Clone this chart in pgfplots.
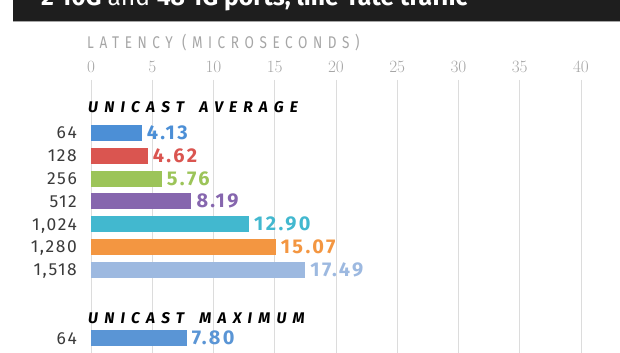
\documentclass[border=0pt]{standalone}
\usepackage{pgfplots}
\pgfplotsset{compat=1.18}
\usepackage{fontspec}
\setmainfont{Fira Sans}
\newfontfamily\tickfont[FakeStretch=0.72]{Fira Sans}
\newfontfamily\capfont[FakeStretch=0.8,LetterSpace=33]{Fira Sans}
\newfontfamily\rowfont[LetterSpace=9]{Fira Sans}
\newfontfamily\valfont[LetterSpace=12]{Fira Sans}
\newfontfamily\headfont[LetterSpace=40,WordSpace=1.6]{Fira Sans}
\definecolor{c1}{HTML}{4C8FD6}
\definecolor{c2}{HTML}{DA5550}
\definecolor{c3}{HTML}{9CC459}
\definecolor{c4}{HTML}{8666AE}
\definecolor{c5}{HTML}{42B8CF}
\definecolor{c6}{HTML}{F39641}
\definecolor{c7}{HTML}{9DB9E0}
\definecolor{c8}{HTML}{5A95D5}
\definecolor{gridc}{HTML}{DCDCDC}
\definecolor{tickc}{HTML}{A6A6A6}
\definecolor{rowc}{HTML}{3A3A3A}
\definecolor{band}{HTML}{1E1E1E}
\pgfplotsset{
  valbar/.style={fill=#1, draw=none, bar shift=0pt, bar width=0.7,
    nodes near coords, point meta=explicit symbolic,
    nodes near coords style={anchor=west, inner sep=0pt, xshift=5bp,
      text=#1, font=\valfont\bfseries\fontsize{20}{22}\selectfont}}
}
\begin{document}
\begin{tikzpicture}
\fill[band] (13bp,332.3bp) rectangle (620bp,353bp);
\draw[black!35, line width=0.8bp] (13bp,331.9bp) -- (620bp,331.9bp);
\node[anchor=base west, inner sep=0pt, text=white, font=\fontsize{24.8}{27}\selectfont] at (41bp,347.5bp)
  {\bfseries 2 10G \mdseries and \bfseries 48 1G ports, line-rate traffic};
\node[anchor=base west, inner sep=0pt, text=tickc, font=\capfont\fontsize{17}{19}\selectfont] at (87bp,304bp)
  {LATENCY (MICROSECONDS)};
\begin{axis}[
  at={(91bp,0bp)}, anchor=south west, scale only axis,
  width=529.2bp, height=273bp,
  xmin=0, xmax=43.2, ymin=-2.32, ymax=9.65, y dir=reverse,
  xbar,
  axis line style={draw=none},
  major tick length=0pt,
  xtick={0,5,...,40},
  xticklabel pos=upper,
  xmajorgrids, grid style={gridc, line width=0.9bp},
  xticklabel style={anchor=base, inner sep=0pt, text=tickc, font=\tickfont\fontsize{18.5}{20}\selectfont, yshift=7bp},
  ytick={0,1,2,3,4,5,6,9},
  yticklabels={64,128,256,512,{1,024},{1,280},{1,518},64},
  yticklabel style={anchor=east, inner sep=0pt, text depth=0pt, xshift=-14bp, text=rowc, font=\rowfont\fontsize{17.5}{19}\selectfont},
  clip=false,
]
\addplot[valbar=c1] coordinates {(4.13,0) [4.13]};
\addplot[valbar=c2] coordinates {(4.62,1) [4.62]};
\addplot[valbar=c3] coordinates {(5.76,2) [5.76]};
\addplot[valbar=c4] coordinates {(8.19,3) [8.19]};
\addplot[valbar=c5] coordinates {(12.90,4) [12.90]};
\addplot[valbar=c6] coordinates {(15.07,5) [15.07]};
\addplot[valbar=c7] coordinates {(17.49,6) [17.49]};
\addplot[valbar=c8] coordinates {(7.80,9) [7.80]};
\node[anchor=base west, inner sep=0pt, xshift=-3bp, font=\headfont\bfseries\itshape\fontsize{15.5}{17}\selectfont] at (axis cs:0,-0.877) {UNICAST AVERAGE};
\node[anchor=base west, inner sep=0pt, xshift=-3bp, font=\headfont\bfseries\itshape\fontsize{15.5}{17}\selectfont] at (axis cs:0,8.377) {UNICAST MAXIMUM};
\end{axis}
\pgfresetboundingbox
\useasboundingbox (0bp,0bp) rectangle (620bp,353bp);
\end{tikzpicture}
\end{document}
